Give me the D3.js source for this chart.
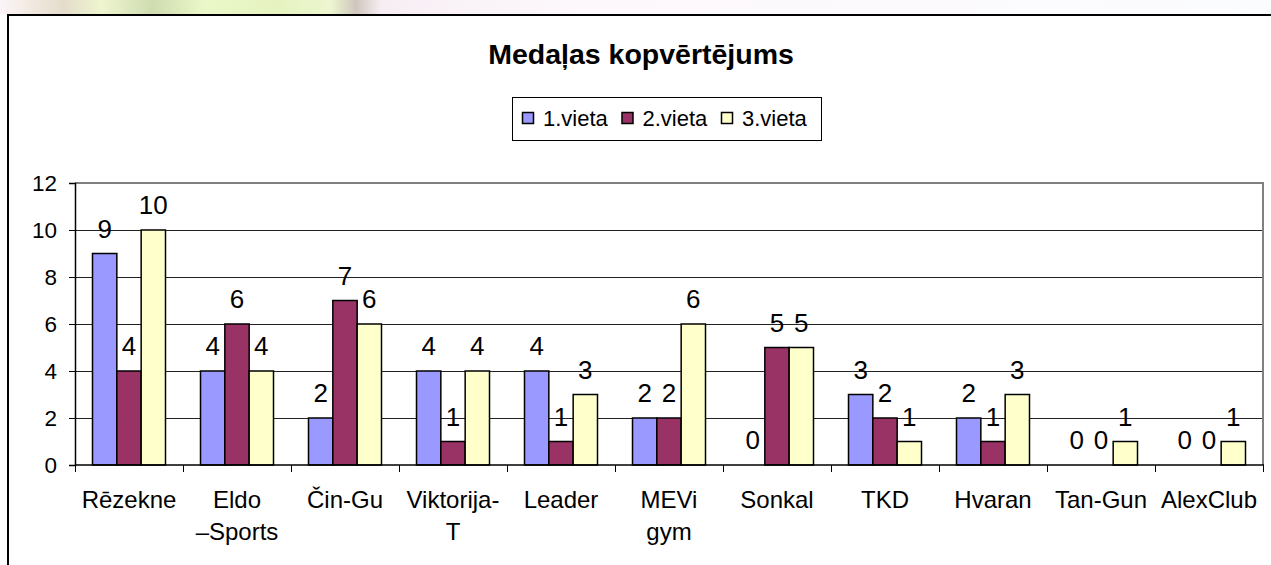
<!DOCTYPE html>
<html>
<head>
<meta charset="utf-8">
<script src="https://cdnjs.cloudflare.com/ajax/libs/d3/7.8.5/d3.min.js"></script>
<style>
  body { margin: 0; background: #fff; }
  text { font-family: Arial, "Liberation Sans", sans-serif; fill: #000; }
</style>
</head>
<body>
<div id="theGraph"></div>
<script>
const categories = ["Rēzekne", "Eldo –Sports", "Čin-Gu", "Viktorija-T", "Leader", "MEVi gym", "Sonkal", "TKD", "Hvaran", "Tan-Gun", "AlexClub"];
const categoryLines = [["Rēzekne"], ["Eldo", "–Sports"], ["Čin-Gu"], ["Viktorija-", "T"], ["Leader"], ["MEVi", "gym"], ["Sonkal"], ["TKD"], ["Hvaran"], ["Tan-Gun"], ["AlexClub"]];
const seriesNames = ["1.vieta", "2.vieta", "3.vieta"];
const first = [9, 4, 2, 4, 4, 2, 0, 3, 2, 0, 0];
const second = [4, 6, 7, 1, 1, 2, 5, 2, 1, 0, 0];
const third = [10, 4, 6, 4, 3, 6, 5, 1, 3, 1, 1];
const yTicks = [0, 2, 4, 6, 8, 10, 12];
const colors = ["#9999ff", "#993366", "#ffffcc"];

const width = 1271, height = 565,
    plot = {left: 75, top: 183, right: 1263, bottom: 465};

const svg = d3.select("#theGraph").append("svg").attr("width", width).attr("height", height);

// blurred strip of the page background above the chart frame
const grad = svg.append("defs").append("linearGradient").attr("id", "strip");
[[0, "#fbf4f8"], [0.02, "#f4ece4"], [0.05, "#e4dccb"], [0.08, "#eef5cf"], [0.12, "#cfdcb0"], [0.16, "#eaf7c8"],
 [0.22, "#e6f3c0"], [0.26, "#edf6d0"], [0.28, "#cfc6bd"], [0.3, "#f7eef4"], [0.45, "#fdf8fc"], [1, "#fbfcfe"]]
    .forEach(s => grad.append("stop").attr("offset", s[0]).attr("stop-color", s[1]));
svg.append("rect").attr("x", 0).attr("y", 0).attr("width", width).attr("height", 14).attr("fill", "url(#strip)");

// chart frame
svg.append("path").attr("d", `M8,${height + 5}V15H${width + 5}`).attr("fill", "none").attr("stroke", "#000").attr("stroke-width", 2);

// title
svg.append("text").attr("x", 641).attr("y", 64).attr("text-anchor", "middle")
    .style("font-size", "28.5px").style("font-weight", "bold").text("Medaļas kopvērtējums");

// legend
const legend = svg.append("g").attr("transform", "translate(512,97)");
legend.append("rect").attr("x", 0.5).attr("y", 0.5).attr("width", 309).attr("height", 43).attr("fill", "#fff").attr("stroke", "#000");
seriesNames.forEach((name, i) => {
    const g = legend.append("g").attr("transform", `translate(${10 + i * 99.5},0)`);
    g.append("rect").attr("x", 0.5).attr("y", 15.5).attr("width", 11).attr("height", 11).attr("fill", colors[i]).attr("stroke", "#000").attr("stroke-width", 1.5);
    g.append("text").attr("x", 21).attr("y", 29).style("font-size", "22px").text(name);
});

const x = d3.scaleBand().domain(categories).range([plot.left, plot.right]);
const x1 = d3.scaleBand().domain(seriesNames).range([17.5, x.bandwidth() - 17.5]);
const y = d3.scaleLinear().domain([0, 12]).range([plot.bottom, plot.top]);

// gridlines
svg.append("g").selectAll("line").data(yTicks.filter(t => t > 0 && t < 12)).enter().append("line")
    .attr("x1", plot.left).attr("x2", plot.right).attr("y1", d => Math.round(y(d)) + 0.5).attr("y2", d => Math.round(y(d)) + 0.5)
    .attr("stroke", "#222").attr("stroke-width", 1);

// plot area border top/right
svg.append("path").attr("d", `M${plot.left},${plot.top}H${plot.right}V${plot.bottom}`)
    .attr("fill", "none").attr("stroke", "#808080").attr("stroke-width", 2);

// bars
const data = [first, second, third];
const rows = categories.map((c, i) => seriesNames.map((s, j) => ({cat: c, series: s, idx: j, value: data[j][i]})));
const groups = svg.append("g").selectAll("g").data(rows).enter().append("g")
    .attr("transform", (d, i) => `translate(${x(categories[i])},0)`);
groups.selectAll("rect").data(d => d.filter(v => v.value > 0)).enter().append("rect")
    .attr("x", d => x1(d.series)).attr("width", x1.bandwidth())
    .attr("y", d => y(d.value)).attr("height", d => y(0) - y(d.value))
    .attr("fill", d => colors[d.idx]).attr("stroke", "#000").attr("stroke-width", 1.5);
groups.selectAll("text").data(d => d).enter().append("text")
    .attr("x", d => x1(d.series) + x1.bandwidth() / 2).attr("y", d => y(d.value) - 16)
    .attr("text-anchor", "middle").style("font-size", "26px").text(d => d.value);

// y axis
const yAxis = svg.append("g").attr("transform", `translate(${plot.left},0)`)
    .call(d3.axisLeft(y).tickValues(yTicks).tickSize(6).tickPadding(12));
yAxis.select(".domain").attr("stroke", "#000").attr("stroke-width", 1.5);
yAxis.selectAll(".tick line").attr("stroke", "#000");
yAxis.selectAll(".tick text").style("font-size", "22.5px").style("font-family", "Arial, 'Liberation Sans', sans-serif");

// x axis
const xAxis = svg.append("g").attr("transform", `translate(0,${plot.bottom})`);
xAxis.append("line").attr("x1", plot.left).attr("x2", plot.right + 1).attr("stroke", "#000").attr("stroke-width", 1.5);
xAxis.selectAll(".tk").data(categories.concat(["end"])).enter().append("line").attr("class", "tk")
    .attr("x1", (d, i) => Math.round(plot.left + i * x.step()) + 0.5).attr("x2", (d, i) => Math.round(plot.left + i * x.step()) + 0.5)
    .attr("y1", 0).attr("y2", 7).attr("stroke", "#000");
const labels = xAxis.selectAll(".lbl").data(categories).enter().append("text").attr("class", "lbl")
    .attr("text-anchor", "middle").style("font-size", "24px");
labels.selectAll("tspan").data((d, i) => categoryLines[i]).enter().append("tspan")
    .attr("x", function() { return x(d3.select(this.parentNode).datum()) + x.bandwidth() / 2; })
    .attr("y", (d, i) => 43 + i * 32).text(d => d);
</script>
</body>
</html>
